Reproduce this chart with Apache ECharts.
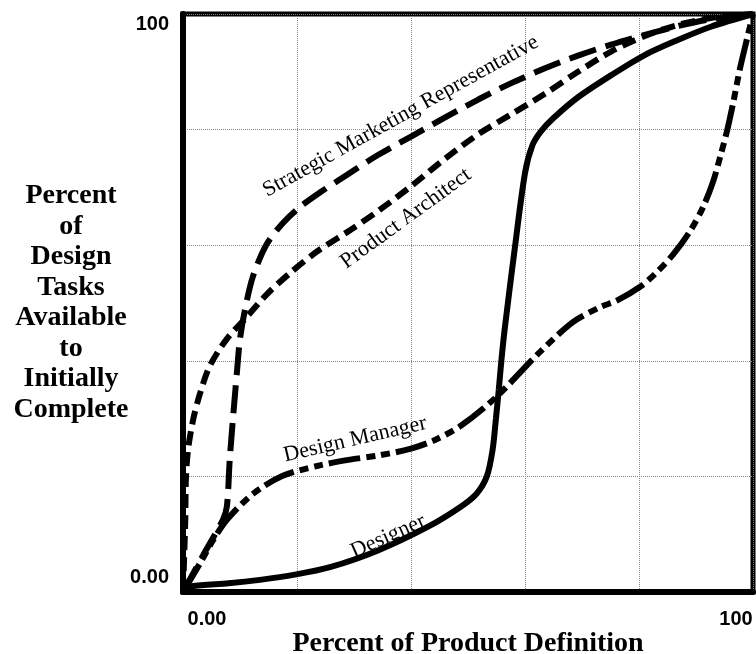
<!DOCTYPE html>
<html>
<head>
<meta charset="utf-8">
<script src="https://cdn.jsdelivr.net/npm/echarts@6/dist/echarts.min.js"></script>
<style>
  html, body { margin: 0; padding: 0; background: #fff; }
  #chart { width: 756px; height: 654px; }
</style>
</head>
<body>
<div id="chart"></div>
<script>
// values, both axes in percent
var designerX = [0, 1.5, 8, 13.5, 19.6, 25.8, 34, 43, 48.8, 51.5, 53.3, 54.3, 54.9, 55.4, 55.9, 56.5, 58.2, 60, 61.3, 62.8, 65, 69.3, 75.1, 81, 86.8, 92.6, 100];
var designerY = [0, 1, 1.5, 2.1, 3, 4.3, 7.1, 11.3, 14.8, 17, 20, 24.5, 30, 35, 40.5, 46, 59.4, 72.5, 77.3, 79.7, 82, 85.6, 89.4, 92.9, 95.5, 97.8, 100];

var architectX = [0, 0.4, 0.5, 0.9, 1.8, 3, 4.7, 7.7, 11.2, 14.7, 18.8, 23.5, 29.3, 34.2, 40, 46, 51.8, 57.5, 63.5, 69.3, 75.1, 81, 86.8, 92.6, 100];
var architectY = [0, 12.5, 19.4, 24.7, 29.9, 34.4, 39.1, 43.8, 47.6, 51.5, 55.2, 58.9, 62.6, 65.9, 70.2, 75, 79.2, 82.6, 86.2, 90, 93.5, 96.2, 98.1, 99.3, 100];

var marketingX = [0, 3.5, 7, 7.7, 8.2, 8.8, 9.5, 10, 10.9, 12.3, 14.7, 17.5, 20.5, 24, 28.8, 34.2, 40, 46, 51.8, 57.5, 63.5, 69.3, 75.1, 81, 86.8, 92.6, 100];
var marketingY = [0, 6.3, 12.5, 14.8, 22.9, 30.4, 38.5, 43.8, 49, 54.7, 60.2, 63.8, 66.6, 69.1, 72.2, 75.6, 78.8, 82.1, 85.2, 88, 90.6, 92.8, 94.7, 96.4, 97.9, 99.1, 100];

var managerX = [0, 3, 5.3, 7.7, 12.3, 17.5, 23.5, 29.3, 34.2, 40, 44.2, 48.8, 54.7, 62.6, 68.4, 73.2, 76.1, 80.2, 83, 86, 89, 91.2, 93, 94.3, 95.5, 96.6, 97.7, 98.9, 100];
var managerY = [0, 5, 9, 12.5, 17, 20.1, 21.8, 22.9, 23.6, 24.8, 26.3, 28.8, 33.5, 41.5, 46.7, 49.3, 50.4, 52.8, 55.2, 58.4, 62.5, 66.5, 71, 75.5, 80, 85, 90.5, 95.5, 100];

// curve names and where they are written [x, y, angle]
var curveNames = ["Strategic Marketing Representative", "Product Architect", "Design Manager", "Designer"];
var nameSpots = [[38.2, 82.3, 29], [39.1, 64.6, 36], [30.2, 26.4, 13], [36, 9.6, 24]];

var xTickLabels = { 0: "0.00", 100: "100" };
var yTickLabels = { 0: "0.00", 100: "100" };
var yTitle = ["Percent", "of", "Design", "Tasks", "Available", "to", "Initially", "Complete"];

function pairs(xs, ys) {
  return xs.map(function (x, i) {
    return [x, ys[i]];
  });
}

function nameMark(i) {
  return {
    silent: true,
    symbol: "circle",
    symbolSize: 1,
    itemStyle: { color: "rgba(0,0,0,0)" },
    label: {
      show: true,
      position: "inside",
      rotate: nameSpots[i][2],
      formatter: curveNames[i],
      fontFamily: "Liberation Serif",
      fontSize: 22,
      color: "#000",
    },
    data: [{ coord: [nameSpots[i][0], nameSpots[i][1]] }],
  };
}

function curve(name, data, dash, i) {
  return {
    name: name,
    type: "line",
    data: data,
    smooth: 0.3,
    showSymbol: false,
    lineStyle: { color: "#000", width: 6, type: dash, cap: "butt" },
    markPoint: nameMark(i),
    z: 3,
  };
}

var chart = echarts.init(document.getElementById("chart"));
var option = {
  animation: false,
  backgroundColor: "#fff",
  grid: {
    left: 183,
    right: 3,
    top: 14,
    bottom: 62,
    outerBoundsMode: "none",
    show: true,
    borderColor: "#000",
    borderWidth: 5,
  },
  xAxis: {
    type: "value",
    min: 0,
    max: 100,
    interval: 20,
    name: "Percent of Product Definition",
    nameLocation: "middle",
    nameGap: 38,
    nameMoveOverlap: false,
    nameTextStyle: {
      fontFamily: "Liberation Serif",
      fontWeight: "bold",
      fontSize: 28,
      color: "#000",
    },
    axisLine: { lineStyle: { color: "#000", width: 6 } },
    axisTick: { show: false },
    splitLine: { lineStyle: { color: "#888", type: "dotted", width: 1 } },
    axisLabel: {
      margin: 17,
      formatter: function (v) {
        if (v === 0) return "{lo|" + xTickLabels[0] + "}";
        if (v === 100) return "{hi|" + xTickLabels[100] + "}";
        return "";
      },
      rich: {
        lo: { fontFamily: "Liberation Sans", fontWeight: "bold", fontSize: 20, color: "#000", padding: [0, 0, 0, 48] },
        hi: { fontFamily: "Liberation Sans", fontWeight: "bold", fontSize: 20, color: "#000", padding: [0, 34, 0, 0] },
      },
    },
  },
  yAxis: {
    type: "value",
    min: 0,
    max: 100,
    interval: 20,
    name: yTitle.join("\n"),
    nameLocation: "middle",
    nameRotate: 0,
    nameGap: 112,
    nameMoveOverlap: false,
    nameTextStyle: {
      fontFamily: "Liberation Serif",
      fontWeight: "bold",
      fontSize: 28,
      lineHeight: 30.5,
      align: "center",
      verticalAlign: "middle",
      color: "#000",
    },
    axisLine: { show: true, lineStyle: { color: "#000", width: 6 } },
    axisTick: { show: false },
    splitLine: { lineStyle: { color: "#888", type: "dotted", width: 1 } },
    axisLabel: {
      margin: 14,
      formatter: function (v) {
        if (v === 100) return "{top| }\n{top|" + yTickLabels[100] + "}";
        if (v === 0) return "{bot|" + yTickLabels[0] + "}\n{bot| }";
        return "";
      },
      rich: {
        top: { fontFamily: "Liberation Sans", fontWeight: "bold", fontSize: 20, color: "#000", lineHeight: 20, align: "right" },
        bot: { fontFamily: "Liberation Sans", fontWeight: "bold", fontSize: 20, color: "#000", lineHeight: 30, align: "right" },
      },
    },
  },
  series: [
    curve("Strategic Marketing Representative", pairs(marketingX, marketingY), [28, 10], 0),
    curve("Product Architect", pairs(architectX, architectY), [14, 7], 1),
    curve("Design Manager", pairs(managerX, managerY), [32, 6, 9, 6, 9, 6], 2),
    curve("Designer", pairs(designerX, designerY), "solid", 3),
  ],
};
chart.setOption(option);
</script>
</body>
</html>
